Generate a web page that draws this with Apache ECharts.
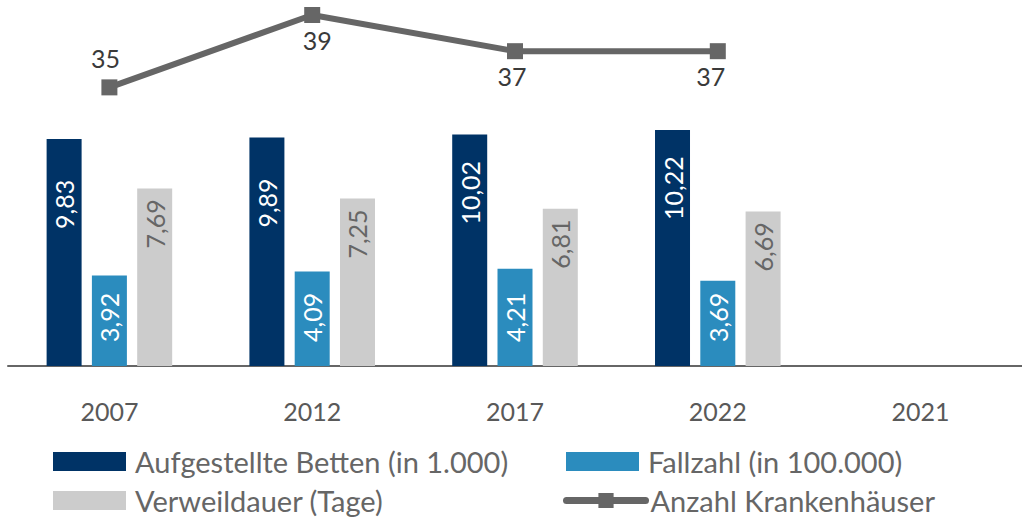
<!DOCTYPE html>
<html>
<head>
<meta charset="utf-8">
<script src="https://cdn.jsdelivr.net/npm/echarts@6/dist/echarts.min.js"></script>
<style>
html,body{margin:0;padding:0;background:#fff;}
#chart{width:1022px;height:519px;}
</style>
</head>
<body>
<div id="chart"></div>
<script>
const categories = ['2007', '2012', '2017', '2022', '2021'];
const betten = [9.83, 9.89, 10.02, 10.22, null];
const fallzahl = [3.92, 4.09, 4.21, 3.69, null];
const verweildauer = [7.69, 7.25, 6.81, 6.69, null];
const krankenhaeuser = [35, 39, 37, 37, null];
const seriesNames = ['Aufgestellte Betten (in 1.000)', 'Fallzahl (in 100.000)', 'Verweildauer (Tage)', 'Anzahl Krankenhäuser'];

// label styling (not data)
const lineLabelPositions = ['top', 'bottom', 'bottom', 'bottom', 'bottom'];
const lineLabelShiftX = [-4, 5, -3, -7, 0];

const FONT = 'Lato';
const fmt = p => p.value == null ? '' : Number(p.value).toFixed(2).replace('.', ',');

const chart = echarts.init(document.getElementById('chart'), null, {renderer: 'svg'});

const barLabel = (color, pos, dist) => ({
  show: true, rotate: 90, position: pos, distance: dist,
  align: 'left', verticalAlign: 'middle',
  color: color, fontFamily: FONT, fontSize: 25, formatter: fmt
});

const legendText = {fontFamily: FONT, fontSize: 29, lineHeight: 29, color: '#666666', padding: [0, 0, 0, 4]};
const mkLegend = (name, left, top, extra) => Object.assign({
  left: left, top: top, padding: 0, itemWidth: 73, itemHeight: 19,
  data: [{name: name, icon: 'rect'}], textStyle: legendText, selectedMode: false
}, extra || {});

chart.setOption({
  animation: false,
  grid: {left: 8, width: 1018, top: 15, bottom: 153, containLabel: false},
  legend: [
    mkLegend(seriesNames[0], 53, 447),
    mkLegend(seriesNames[2], 53, 486),
    mkLegend(seriesNames[1], 566, 447),
    mkLegend(seriesNames[3], 563, 486, {
      itemWidth: 79, data: [{name: seriesNames[3]}],
      textStyle: Object.assign({}, legendText, {padding: [0, 0, 0, 0]}),
      lineStyle: {width: 7, cap: 'round'}
    })
  ],
  xAxis: {
    type: 'category', data: categories,
    axisLine: {lineStyle: {color: '#666666', width: 2}},
    axisTick: {alignWithLabel: true, length: 7, lineStyle: {color: '#666666', width: 2}},
    axisLabel: {color: '#595959', fontFamily: FONT, fontSize: 25, margin: 32}
  },
  yAxis: [
    {type: 'value', min: 0, max: 15.2, show: false, splitLine: {show: false}},
    {type: 'value', min: 19.6, max: 39, show: false, splitLine: {show: false}}
  ],
  series: [
    {name: seriesNames[0], type: 'bar', data: betten, barWidth: 35, barGap: '29.4%',
     itemStyle: {color: '#003366'}, label: barLabel('#ffffff', 'insideTop', 90)},
    {name: seriesNames[1], type: 'bar', data: fallzahl, barWidth: 35, barGap: '29.4%',
     itemStyle: {color: '#2B8CBE'}, label: barLabel('#ffffff', 'insideBottom', 24)},
    {name: seriesNames[2], type: 'bar', data: verweildauer, barWidth: 35, barGap: '29.4%',
     itemStyle: {color: '#CCCCCC'}, label: barLabel('#666666', 'insideTop', 60)},
    {name: seriesNames[3], type: 'line', yAxisIndex: 1,
     data: krankenhaeuser.map((v, i) => ({
       value: v,
       label: {position: lineLabelPositions[i], offset: [lineLabelShiftX[i], 0],
               distance: lineLabelPositions[i] === 'top' ? 9 : 4}
     })),
     symbol: 'rect', symbolSize: 16, connectNulls: false,
     lineStyle: {color: '#666666', width: 6}, itemStyle: {color: '#666666'},
     label: {show: true, fontFamily: FONT, fontSize: 25, color: '#3a3a3a',
             formatter: p => p.value == null ? '' : String(p.value)}}
  ]
});
</script>
</body>
</html>
